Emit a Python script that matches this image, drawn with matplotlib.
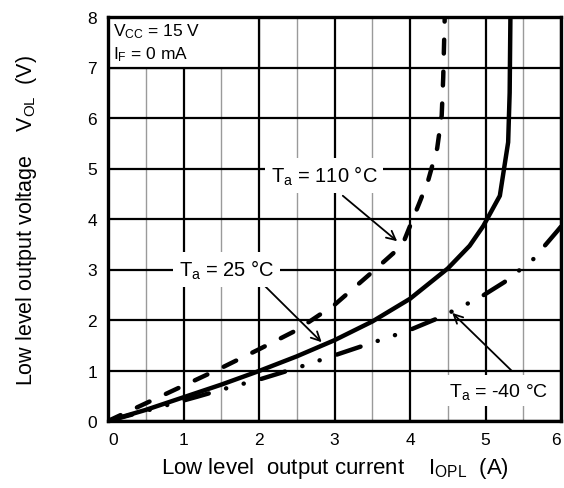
import numpy as np
import matplotlib.pyplot as plt
from matplotlib.patches import Rectangle

plt.rcParams['font.family'] = ['Liberation Sans', 'DejaVu Sans']
plt.rcParams['mathtext.default'] = 'regular'
plt.rcParams['lines.scale_dashes'] = False

# curves, I_OPL (A) vs V_OL (V)
i_25 = [0, 0.5, 1.0, 1.5, 2.0, 2.5, 3.0, 3.5, 4.0, 4.5, 4.79, 4.97, 5.19, 5.3, 5.32, 5.33]
v_25 = [0, 0.22, 0.47, 0.72, 0.99, 1.28, 1.6, 1.97, 2.42, 3.02, 3.47, 3.86, 4.46, 5.52, 6.5, 8.0]

i_110 = [0, 0.5, 1.0, 1.5, 2.0, 2.5, 3.0, 3.5, 3.8, 3.93, 4.13, 4.24, 4.36, 4.42, 4.44, 4.46]
v_110 = [0, 0.35, 0.7, 1.05, 1.42, 1.8, 2.3, 2.95, 3.35, 3.6, 4.34, 4.76, 5.4, 6.05, 6.8, 8.0]

i_m40 = [0, 0.5, 1.18, 1.62, 2.0, 2.5, 3.0, 3.5, 3.96, 4.41, 4.93, 5.25, 5.63, 5.95, 6.0]
v_m40 = [0, 0.2, 0.48, 0.67, 0.82, 1.05, 1.3, 1.55, 1.78, 2.06, 2.45, 2.75, 3.2, 3.76, 3.85]

xticks = [0, 1, 2, 3, 4, 5, 6]
yticks = [0, 1, 2, 3, 4, 5, 6, 7, 8]

fig = plt.figure(figsize=(5.64, 4.89), dpi=100)
ax = fig.add_axes([108/564, 1-422/489, 453/564, 404/489])

ax.plot(i_25, v_25, color='black', lw=3.2, solid_capstyle='round', zorder=3)
ax.plot(i_110, v_110, color='black', lw=3.2, dashes=(10, 13), dash_capstyle='round', zorder=3)
ax.plot(i_m40, v_m40, color='black', lw=3.2, dashes=(18, 13, 0.1, 13, 0.1, 13),
        dash_capstyle='round', zorder=3)

ax.set_xlim(0, 6)
ax.set_ylim(0, 8)
ax.set_xticks(xticks)
ax.set_yticks(yticks)
ax.set_xticks(np.arange(0.5, 6, 1.0), minor=True)
ax.grid(True, which='major', color='black', lw=1.6)
ax.grid(True, which='minor', axis='x', color='#9a9a9a', lw=1.0)
ax.tick_params(which='both', length=0, labelsize=12.5, pad=8)
xl = ax.get_xticklabels()
xl[0].set_ha('left')
xl[-1].set_ha('right')
for s in ax.spines.values():
    s.set_linewidth(2.4)
    s.set_zorder(5)

# condition box top left
ax.add_patch(Rectangle((0, 7), 2, 1, facecolor='white', edgecolor='black', lw=1.6, zorder=1.8))
ax.text(0.06, 7.72, 'V$_{CC}$ = 15 V', fontsize=12.5, va='center', zorder=4)
ax.text(0.06, 7.28, 'I$_F$ = 0 mA', fontsize=12.5, va='center', zorder=4)

box = dict(facecolor='white', edgecolor='none', pad=4)
arr = dict(arrowstyle='->', color='black', lw=1.3, mutation_scale=16, shrinkA=0, shrinkB=0)
ax.annotate('', xy=(3.83, 3.56), xytext=(3.11, 4.46), arrowprops=arr, zorder=4)
ax.text(2.86, 4.86, 'T$_a$ = 110 °C', fontsize=14.5, ha='center', va='center', bbox=box, zorder=4)
ax.annotate('', xy=(2.83, 1.56), xytext=(2.08, 2.67), arrowprops=arr, zorder=4)
ax.text(1.57, 3.0, 'T$_a$ = 25 °C', fontsize=14.5, ha='center', va='center', bbox=box, zorder=4)
ax.annotate('', xy=(4.56, 2.14), xytext=(5.35, 0.99), arrowprops=arr, zorder=4)
ax.text(5.17, 0.6, 'T$_a$ = -40 °C', fontsize=14, ha='center', va='center', bbox=box, zorder=4)

ax.set_xlabel('Low level  output current    I$_{OPL}$  (A)', fontsize=16)
ax.set_ylabel('Low level output voltage    V$_{OL}$  (V)', fontsize=15.5)
ax.xaxis.set_label_coords(0.5, -0.085)
ax.yaxis.set_label_coords(-0.152, 0.5)

fig.savefig('out.png', dpi=100)
